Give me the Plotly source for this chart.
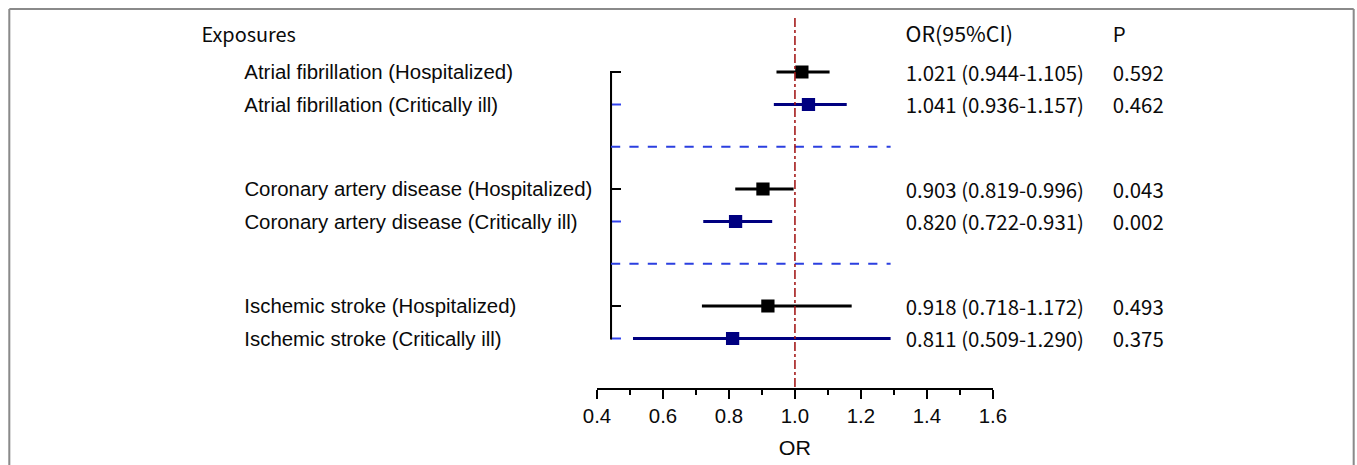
import plotly.graph_objects as go

# ---- data ----
exposures = ["Atrial fibrillation", "Coronary artery disease", "Ischemic stroke"]
outcomes = ["Hospitalized", "Critically ill"]
or_values = [[1.021, 1.041], [0.903, 0.820], [0.918, 0.811]]
ci_low = [[0.944, 0.936], [0.819, 0.722], [0.718, 0.509]]
ci_high = [[1.105, 1.157], [0.996, 0.931], [1.172, 1.290]]
p_values = [["0.592", "0.462"], ["0.043", "0.002"], ["0.493", "0.375"]]
x_ticks = [0.4, 0.6, 0.8, 1.0, 1.2, 1.4, 1.6]

# ---- layout constants (pixels of the 1357x465 target) ----
W, H = 1357, 465
X0_PX, X1_PX = 597, 993          # pixel of 0.4 and 1.6
AXIS_Y_PX = 388
TOP_ROW = 72
ROW_GAP = 32.5
GROUP_STEP = 117
YAX_PX = 611
LABEL_X = 242
STAT_X = 904
P_X = 1111

colors = ["#000000", "#000080"]
tick_colors = ["#000000", "#3344ee"]
TXT = "#0a0a0a"
SANS = "Liberation Sans, Arial"
CJK = "Noto Sans CJK SC, Open Sans"


def px_to_or(px):
    return 0.4 + (px - X0_PX) * 1.2 / (X1_PX - X0_PX)


fig = go.Figure()
shapes = []
annotations = []

row_ys = []
for g, name in enumerate(exposures):
    for r, outc in enumerate(outcomes):
        y = TOP_ROW + g * GROUP_STEP + r * ROW_GAP
        row_ys.append(y)
        fig.add_trace(go.Scatter(
            x=[ci_low[g][r], ci_high[g][r]], y=[y, y], mode="lines",
            line=dict(color=colors[r], width=3), hoverinfo="skip", showlegend=False))
        fig.add_trace(go.Scatter(
            x=[or_values[g][r]], y=[y], mode="markers",
            marker=dict(symbol="square", size=13, color=colors[r]),
            showlegend=False))
        annotations.append(dict(x=LABEL_X / W, xref="paper", y=y, yref="y",
                                text=f"{name} ({outc})", showarrow=False,
                                xanchor="left", yanchor="middle",
                                font=dict(family=SANS, size=20, color=TXT)))
        annotations.append(dict(x=STAT_X / W, xref="paper", y=y, yref="y",
                                text=f"{or_values[g][r]:.3f} ({ci_low[g][r]:.3f}-{ci_high[g][r]:.3f})",
                                showarrow=False, xanchor="left", yanchor="middle",
                                font=dict(family=CJK, size=20, color=TXT)))
        annotations.append(dict(x=P_X / W, xref="paper", y=y, yref="y",
                                text=p_values[g][r], showarrow=False,
                                xanchor="left", yanchor="middle",
                                font=dict(family=CJK, size=20, color=TXT)))
        # y-axis tick
        shapes.append(dict(type="line", xref="paper", yref="y",
                           x0=YAX_PX / W, x1=(YAX_PX + 10) / W, y0=y, y1=y,
                           line=dict(color=tick_colors[r], width=2)))

# headers
header_y = 33
for text, px, size in [("Exposures", 199, 19.5), ("OR(95%CI)", STAT_X, 21), ("P", P_X, 20)]:
    annotations.append(dict(x=px / W, xref="paper", y=header_y, yref="y", text=text,
                            showarrow=False, xanchor="left", yanchor="middle",
                            font=dict(family=CJK, size=size, color=TXT)))

# y-axis bracket line
shapes.append(dict(type="line", xref="paper", yref="y", x0=YAX_PX / W, x1=YAX_PX / W,
                   y0=row_ys[0] - 1, y1=row_ys[-1] + 1, line=dict(color="black", width=2)))

# dashed separators
for g in range(len(exposures) - 1):
    ysep = (row_ys[2 * g + 1] + row_ys[2 * g + 2]) / 2
    shapes.append(dict(type="line", xref="x", yref="y", x0=px_to_or(YAX_PX), x1=1.29,
                       y0=ysep, y1=ysep, line=dict(color="#2b3fe0", width=1.8, dash="dash")))

# null line
shapes.append(dict(type="line", xref="x", yref="y", x0=1.0, x1=1.0, y0=18, y1=AXIS_Y_PX,
                   line=dict(color="#a01010", width=1.5, dash="dashdot")))

# frame
frame_c = "#8a8a8a"
shapes.append(dict(type="line", xref="paper", yref="paper", x0=9 / W, x1=1354 / W,
                   y0=1 - 9 / H, y1=1 - 9 / H, line=dict(color=frame_c, width=2)))
shapes.append(dict(type="line", xref="paper", yref="paper", x0=9 / W, x1=9 / W,
                   y0=0, y1=1 - 9 / H, line=dict(color=frame_c, width=2)))
shapes.append(dict(type="line", xref="paper", yref="paper", x0=1354 / W, x1=1354 / W,
                   y0=0, y1=1 - 9 / H, line=dict(color=frame_c, width=2)))

fig.update_layout(
    width=W, height=H, margin=dict(l=0, r=0, t=0, b=0),
    plot_bgcolor="white", paper_bgcolor="white",
    shapes=shapes, annotations=annotations, showlegend=False,
    xaxis=dict(domain=[X0_PX / W, X1_PX / W], range=[0.4, 1.6], tickvals=x_ticks,
               ticktext=[f"{v:.1f}" for v in x_ticks],
               showline=True, linecolor="black", linewidth=2, ticks="outside",
               ticklen=9, tickwidth=2, tickcolor="black", showgrid=False, zeroline=False,
               minor=dict(dtick=0.1, ticks="outside", ticklen=5, tickwidth=1.5, tickcolor="black"),
               tickfont=dict(family=SANS, size=20, color=TXT),
               title=dict(text="OR", font=dict(family=SANS, size=21, color=TXT),
                          standoff=14)),
    yaxis=dict(domain=[(H - AXIS_Y_PX) / H, 1], range=[AXIS_Y_PX, 0], visible=False,
               showgrid=False, zeroline=False),
)

fig.write_html("out.html",
               config={"displayModeBar": False},
               post_script="document.body.style.margin='0';document.body.style.overflow='hidden';"
                           "var d=document.getElementById('{plot_id}');"
                           "d.style.transformOrigin='678.5px 0px';"
                           "d.style.transform='scaleX(1.0206)';")
